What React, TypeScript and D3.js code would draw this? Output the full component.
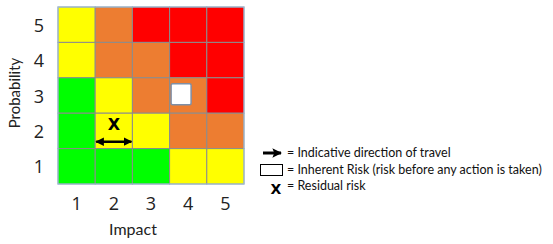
import React from "react";
import * as d3 from "d3";

const impacts = [1, 2, 3, 4, 5];
const probabilities = [5, 4, 3, 2, 1];
// rating levels per probability row (row 5 at top), columns impact 1..5
const row5 = ["Y", "O", "R", "R", "R"];
const row4 = ["Y", "O", "O", "R", "R"];
const row3 = ["G", "Y", "O", "O", "R"];
const row2 = ["G", "Y", "Y", "O", "O"];
const row1 = ["G", "G", "G", "Y", "Y"];
const ratingRows = [row5, row4, row3, row2, row1];
const inherentRisk = { impact: 4, probability: 3 };
const residualRisk = { impact: 2, probability: 2 };
const legendItems = [
  "= Indicative direction of travel",
  "= Inherent Risk (risk before any action is taken)",
  "= Residual risk",
];

const colorMap: Record<string, string> = {
  G: "#00FF00",
  Y: "#FFFF00",
  O: "#ED7D31",
  R: "#FF0000",
};

export default function App() {
  const W = 553,
    H = 244;
  const x = d3.scaleBand<number>().domain(impacts).range([58, 244]).padding(0);
  const y = d3.scaleBand<number>().domain(probabilities).range([7, 184]).padding(0);
  const bw = x.bandwidth();
  const bh = y.bandwidth();
  const tickFont = "'Open Sans', 'DejaVu Sans', sans-serif";
  const labelFont = "Lato, 'Open Sans', sans-serif";

  const cells: JSX.Element[] = [];
  probabilities.forEach((p, ri) => {
    impacts.forEach((im, ci) => {
      cells.push(
        <rect
          key={`${p}-${im}`}
          x={x(im)}
          y={y(p)}
          width={bw}
          height={bh}
          fill={colorMap[ratingRows[ri][ci]]}
          stroke="#8C8C8C"
          strokeWidth={1}
        />
      );
    });
  });

  const rx = x(residualRisk.impact)!;
  const ry = y(residualRisk.probability)!;
  const ix = x(inherentRisk.impact)!;
  const iy = y(inherentRisk.probability)!;

  const lx = 287;
  const ly = [157, 174, 190];

  return (
    <svg width={W} height={H} style={{ position: "absolute", left: 0, top: 0 }}>
      <defs>
        <marker id="ah" viewBox="0 0 10 10" refX="9" refY="5" markerWidth="3.4" markerHeight="3.4" orient="auto-start-reverse">
          <path d="M0,0 L10,5 L0,10 Z" fill="#000" />
        </marker>
        <marker id="ahl" viewBox="0 0 10 10" refX="9" refY="5" markerWidth="3.2" markerHeight="3.2" orient="auto">
          <path d="M0,0 L10,5 L0,10 L2,5 Z" fill="#000" />
        </marker>
      </defs>
      <rect width={W} height={H} fill="#fff" />
      {cells}
      <rect x={58} y={7} width={186} height={177} fill="none" stroke="#9DC3E6" strokeWidth={1} />

      {/* inherent risk box */}
      <rect x={ix + 1.5} y={iy + 6} width={20} height={21} rx={1.5} fill="#fff" stroke="#7F8FA6" strokeWidth={1.5} />

      {/* residual risk X */}
      <text x={rx + bw / 2} y={ry + 17} textAnchor="middle" fontFamily="'DejaVu Sans', sans-serif" fontWeight="bold" fontSize={16} fill="#000">
        X
      </text>
      <line x1={rx + 1} x2={rx + bw - 1} y1={ry + 28.5} y2={ry + 28.5} stroke="#000" strokeWidth={2.5} markerStart="url(#ah)" markerEnd="url(#ah)" />

      {/* y ticks */}
      {probabilities.map((p) => (
        <text key={p} x={39} y={y(p)! + bh / 2 + 7} textAnchor="middle" fontFamily={tickFont} fontSize={18} fill="#222">
          {p}
        </text>
      ))}
      {/* x ticks */}
      {impacts.map((im) => (
        <text key={im} x={x(im)! + bw / 2} y={210} textAnchor="middle" fontFamily={tickFont} fontSize={18} fill="#222">
          {im}
        </text>
      ))}
      <text x={133} y={235} textAnchor="middle" fontFamily={labelFont} fontSize={16} fill="#222">
        Impact
      </text>
      <text transform={`translate(20,93) rotate(-90)`} textAnchor="middle" fontFamily={labelFont} fontSize={15} fill="#222">
        Probability
      </text>

      {/* legend */}
      <line x1={263} x2={281} y1={153} y2={153} stroke="#000" strokeWidth={3} markerEnd="url(#ahl)" />
      <rect x={260.5} y={164.5} width={22} height={11} fill="#fff" stroke="#000" strokeWidth={1} />
      <text x={276} y={194} textAnchor="middle" fontFamily="'DejaVu Sans', sans-serif" fontWeight="bold" fontSize={14} fill="#000">
        X
      </text>
      {legendItems.map((t, i) => (
        <text key={t} x={lx} y={ly[i]} fontFamily={labelFont} fontSize={12.5} fill="#111">
          {t}
        </text>
      ))}
    </svg>
  );
}
